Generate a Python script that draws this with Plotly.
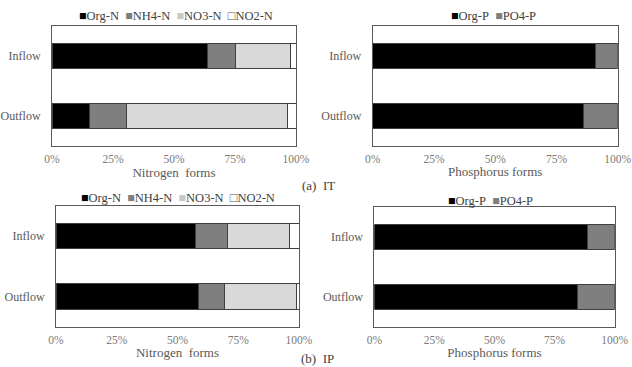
import plotly.graph_objects as go
from plotly.subplots import make_subplots

categories = ["Outflow", "Inflow"]

n_forms = ["Org-N", "NH4-N", "NO3-N", "NO2-N"]
p_forms = ["Org-P", "PO4-P"]

# IT (values for Outflow, Inflow), percent
it_org_n = [15.4, 63.6]
it_nh4_n = [15.2, 11.7]
it_no3_n = [66.1, 22.4]
it_no2_n = [3.3, 2.3]
it_org_p = [86.0, 90.9]
it_po4_p = [14.0, 9.1]

# IP
ip_org_n = [58.8, 57.2]
ip_nh4_n = [10.5, 13.2]
ip_no3_n = [29.6, 25.5]
ip_no2_n = [1.1, 4.1]
ip_org_p = [84.4, 88.8]
ip_po4_p = [15.6, 11.2]

x_ticks = [0, 25, 50, 75, 100]
x_tick_labels = ["0%", "25%", "50%", "75%", "100%"]

n_colors = ["#000000", "#7f7f7f", "#d9d9d9", "#ffffff"]
p_colors = ["#000000", "#7f7f7f"]

FONT = "Liberation Serif, Times New Roman, serif"

fig = make_subplots(rows=2, cols=2)

def add_group(values_list, names, colors, row, col):
    for vals, name, colr in zip(values_list, names, colors):
        fig.add_trace(go.Bar(
            y=categories, x=vals, name=name, orientation="h",
            marker=dict(color=colr, line=dict(color="#404040", width=1)),
            showlegend=False,
        ), row=row, col=col)

add_group([it_org_n, it_nh4_n, it_no3_n, it_no2_n], n_forms, n_colors, 1, 1)
add_group([it_org_p, it_po4_p], p_forms, p_colors, 1, 2)
add_group([ip_org_n, ip_nh4_n, ip_no3_n, ip_no2_n], n_forms, n_colors, 2, 1)
add_group([ip_org_p, ip_po4_p], p_forms, p_colors, 2, 2)

H = 367.0
W = 632.0
def py(p):
    return 1 - p / H

domains = {
    "xaxis": [52 / W, 296 / W], "yaxis": [py(146), py(26)],
    "xaxis2": [372.7 / W, 617.7 / W], "yaxis2": [py(145.7), py(25.7)],
    "xaxis3": [56 / W, 299 / W], "yaxis3": [py(326.7), py(205.7)],
    "xaxis4": [374.3 / W, 614.7 / W], "yaxis4": [py(326.7), py(207.3)],
}
titles = {"xaxis": "Nitrogen\u00a0\u00a0forms", "xaxis2": "Phosphorus forms",
          "xaxis3": "Nitrogen\u00a0\u00a0forms", "xaxis4": "Phosphorus forms"}

for k in ["xaxis", "xaxis2", "xaxis3", "xaxis4"]:
    fig.layout[k].update(
        domain=domains[k], range=[0, 100], tickvals=x_ticks, ticktext=x_tick_labels,
        showgrid=False, zeroline=False, showline=True, mirror=True, automargin=False,
        linecolor="#595959", linewidth=1, ticks="", ticklabelstandoff=2,
        tickfont=dict(family=FONT, size=11.5, color="#7a7a7a"),
        title=dict(text=titles[k], font=dict(family=FONT, size=13, color="#595959"), standoff=2),
        fixedrange=True,
    )
for k in ["yaxis", "yaxis2", "yaxis3", "yaxis4"]:
    fig.layout[k].update(
        domain=domains[k], showgrid=False, zeroline=False, showline=True, mirror=True,
        automargin=False,
        linecolor="#595959", linewidth=1, ticks="", ticklabelstandoff=8,
        tickfont=dict(family=FONT, size=12, color="#595959"),
        categoryorder="array", categoryarray=categories,
    )

def legend_text(names, colors, symbols):
    parts = []
    for n, c, s in zip(names, colors, symbols):
        parts.append(f'<span style="color:{c}">{s}</span>{n}')
    return "\u00a0\u00a0".join(parts)

sq = "\u25a0"
osq = "\u25a1"
n_leg = legend_text(n_forms, ["#000000", "#7f7f7f", "#c8c8c8", "#595959"], [sq, sq, sq, osq])
p_leg = legend_text(p_forms, ["#000000", "#7f7f7f"], [sq, sq])

leg_font = dict(family=FONT, size=12.5, color="#404040")
for (xc, yc, txt) in [(175.5, 16, n_leg), (494, 16, p_leg), (177.5, 197.5, n_leg), (490, 200.5, p_leg)]:
    fig.add_annotation(x=xc / W, y=py(yc), xref="paper", yref="paper", text=txt,
                       showarrow=False, xanchor="center", yanchor="middle", font=leg_font)

cap_font = dict(family=FONT, size=13, color="#404040")
fig.add_annotation(x=300 / W, y=py(185), xref="paper", yref="paper", text="(a)\u00a0\u00a0IT",
                   showarrow=False, xanchor="left", yanchor="middle", font=cap_font)
fig.add_annotation(x=300 / W, y=0, xref="paper", yref="paper", text="(b)\u00a0\u00a0IP",
                   showarrow=False, xanchor="left", yanchor="bottom", font=cap_font,
                   borderpad=0)

fig.update_layout(
    width=632, height=367, margin=dict(l=0, r=0, t=0, b=0),
    barmode="stack", bargap=0.58, plot_bgcolor="white", paper_bgcolor="white",
    showlegend=False, font=dict(family=FONT),
)

fig.write_html("out.html")
